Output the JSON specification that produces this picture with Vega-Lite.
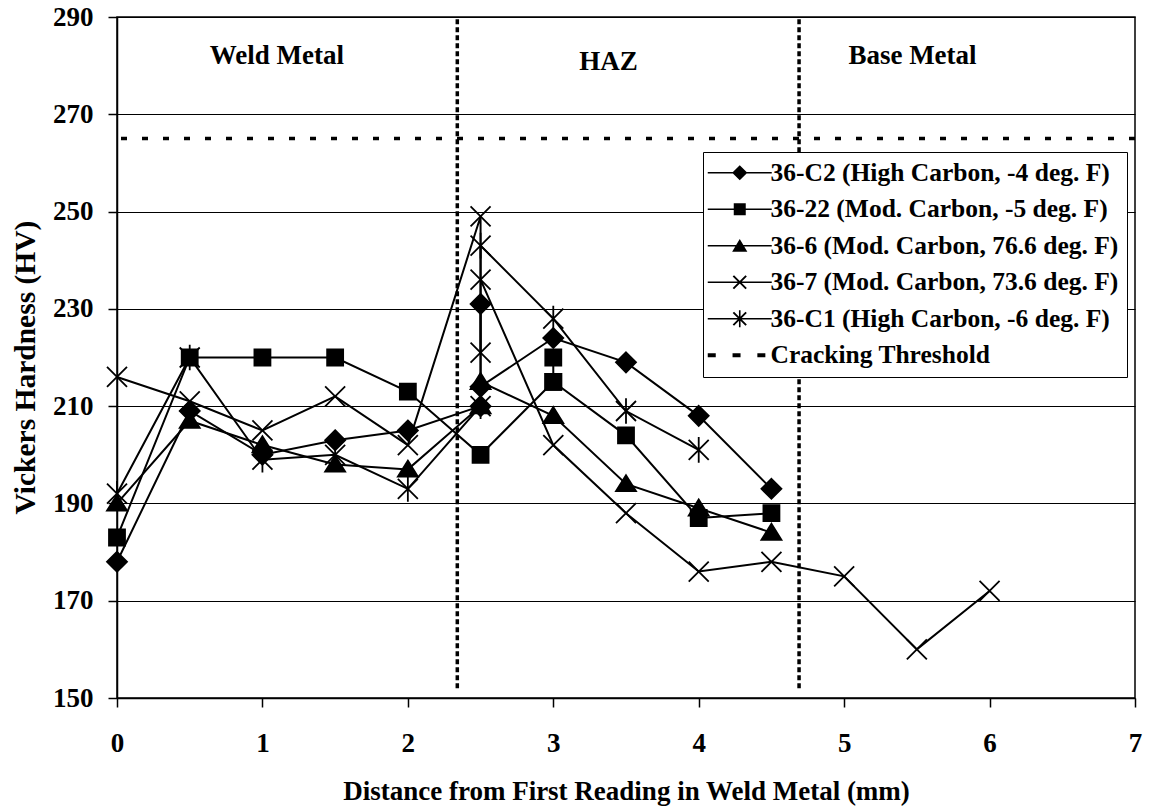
{
  "$schema": "https://vega.github.io/schema/vega-lite/v6.json",
  "width": 1018,
  "height": 681,
  "autosize": {"type": "none"},
  "padding": {"left": 117, "top": 17, "right": 16, "bottom": 112},
  "background": "white",
  "config": {
    "view": {"stroke": "black", "strokeWidth": 1.5},
    "font": "Liberation Serif",
    "axis": {
      "domainColor": "black", "domainWidth": 1.5,
      "tickColor": "black", "tickWidth": 1.5,
      "labelFont": "Liberation Serif", "labelFontWeight": "bold", "labelFontSize": 27, "labelColor": "black",
      "titleFont": "Liberation Serif", "titleFontWeight": "bold", "titleFontSize": 27, "titleColor": "black"
    }
  },
  "datasets": {
    "series": [
      {"s": "C2", "i": 1, "x": 0, "y": 178}, {"s": "C2", "i": 2, "x": 0.5, "y": 209}, {"s": "C2", "i": 3, "x": 1, "y": 200}, {"s": "C2", "i": 4, "x": 1.5, "y": 203}, {"s": "C2", "i": 5, "x": 2, "y": 205}, {"s": "C2", "i": 6, "x": 2.5, "y": 210}, {"s": "C2", "i": 7, "x": 2.5, "y": 231}, {"s": "C2", "i": 8, "x": 2.5, "y": 214}, {"s": "C2", "i": 9, "x": 3, "y": 224}, {"s": "C2", "i": 10, "x": 3.5, "y": 219}, {"s": "C2", "i": 11, "x": 4, "y": 208}, {"s": "C2", "i": 12, "x": 4.5, "y": 193},
      {"s": "22", "i": 1, "x": 0, "y": 183}, {"s": "22", "i": 2, "x": 0.5, "y": 220}, {"s": "22", "i": 3, "x": 1, "y": 220}, {"s": "22", "i": 4, "x": 1.5, "y": 220}, {"s": "22", "i": 5, "x": 2, "y": 213}, {"s": "22", "i": 6, "x": 2.5, "y": 200}, {"s": "22", "i": 7, "x": 3, "y": 215}, {"s": "22", "i": 8, "x": 3, "y": 220}, {"s": "22", "i": 9, "x": 3, "y": 215}, {"s": "22", "i": 10, "x": 3.5, "y": 204}, {"s": "22", "i": 11, "x": 4, "y": 187}, {"s": "22", "i": 12, "x": 4.5, "y": 188},
      {"s": "6", "i": 1, "x": 0, "y": 190}, {"s": "6", "i": 2, "x": 0.5, "y": 207}, {"s": "6", "i": 3, "x": 1, "y": 202}, {"s": "6", "i": 4, "x": 1.5, "y": 198}, {"s": "6", "i": 5, "x": 2, "y": 197}, {"s": "6", "i": 6, "x": 2.5, "y": 210}, {"s": "6", "i": 7, "x": 2.5, "y": 215}, {"s": "6", "i": 8, "x": 3, "y": 208}, {"s": "6", "i": 9, "x": 3.5, "y": 194}, {"s": "6", "i": 10, "x": 4, "y": 189}, {"s": "6", "i": 11, "x": 4.5, "y": 184},
      {"s": "7", "i": 1, "x": 0, "y": 216}, {"s": "7", "i": 2, "x": 0.5, "y": 211}, {"s": "7", "i": 3, "x": 1, "y": 205}, {"s": "7", "i": 4, "x": 1.5, "y": 212}, {"s": "7", "i": 5, "x": 2, "y": 202}, {"s": "7", "i": 6, "x": 2.5, "y": 249}, {"s": "7", "i": 7, "x": 2.5, "y": 221}, {"s": "7", "i": 8, "x": 2.5, "y": 236}, {"s": "7", "i": 9, "x": 3, "y": 202}, {"s": "7", "i": 10, "x": 3.5, "y": 188}, {"s": "7", "i": 11, "x": 4, "y": 176}, {"s": "7", "i": 12, "x": 4.5, "y": 178}, {"s": "7", "i": 13, "x": 5, "y": 175}, {"s": "7", "i": 14, "x": 5.5, "y": 160}, {"s": "7", "i": 15, "x": 6, "y": 172},
      {"s": "C1", "i": 1, "x": 0, "y": 192}, {"s": "C1", "i": 2, "x": 0.5, "y": 220}, {"s": "C1", "i": 3, "x": 1, "y": 199}, {"s": "C1", "i": 4, "x": 1.5, "y": 200}, {"s": "C1", "i": 5, "x": 2, "y": 193}, {"s": "C1", "i": 6, "x": 2.5, "y": 210}, {"s": "C1", "i": 7, "x": 2.5, "y": 243}, {"s": "C1", "i": 8, "x": 3, "y": 228}, {"s": "C1", "i": 9, "x": 3.5, "y": 209}, {"s": "C1", "i": 10, "x": 4, "y": 201}
    ],
    "regions": [
      {"label": "Weld Metal", "x": 1.1, "y": 282},
      {"label": "HAZ", "x": 3.38, "y": 280.7},
      {"label": "Base Metal", "x": 5.47, "y": 282}
    ],
    "bounds": [{"x": 2.34}, {"x": 4.69}],
    "threshold": [{"y": 265}],
    "legendItems": [
      {"name": "36-C2 (High Carbon, -4 deg. F)", "x": -1, "y": 100},
      {"name": "36-22 (Mod. Carbon, -5 deg. F)", "x": -1, "y": 100},
      {"name": "36-6 (Mod. Carbon, 76.6 deg. F)", "x": -1, "y": 100},
      {"name": "36-7 (Mod. Carbon, 73.6 deg. F)", "x": -1, "y": 100},
      {"name": "36-C1 (High Carbon, -6 deg. F)", "x": -1, "y": 100},
      {"name": "Cracking Threshold", "x": -1, "y": 100}
    ]
  },
  "resolve": {"scale": {"shape": "independent"}},
  "layer": [
    {
      "data": {"name": "threshold"},
      "mark": {"type": "rule", "color": "black", "strokeWidth": 3.5, "strokeDash": [6, 15]},
      "encoding": {
        "y": {
          "field": "y", "type": "quantitative",
          "scale": {"domain": [150, 290], "nice": false, "zero": false},
          "axis": {
            "values": [150, 170, 190, 210, 230, 250, 270, 290], "format": "d",
            "grid": true, "gridColor": "black", "gridWidth": 1.2,
            "tickSize": 9, "labelPadding": 15,
            "title": "Vickers Hardness (HV)", "titlePadding": 12, "titleY": 350, "titleFontSize": 29.5
          }
        }
      }
    },
    {
      "data": {"name": "bounds"},
      "mark": {"type": "rule", "color": "black", "strokeWidth": 3.5, "strokeDash": [5, 3]},
      "encoding": {
        "x": {
          "field": "x", "type": "quantitative",
          "scale": {"domain": [0, 7], "nice": false, "zero": false},
          "axis": {
            "values": [0, 1, 2, 3, 4, 5, 6, 7], "format": "d", "grid": false, "labelFlush": false,
            "tickSize": 9, "labelPadding": 23,
            "title": "Distance from First Reading in Weld Metal (mm)", "titlePadding": 22
          }
        },
        "y": {"datum": 152, "type": "quantitative"},
        "y2": {"datum": 290}
      }
    },
    {
      "data": {"name": "regions"},
      "mark": {"type": "text", "font": "Liberation Serif", "fontWeight": "bold", "fontSize": 27, "color": "black"},
      "encoding": {
        "x": {"field": "x", "type": "quantitative"},
        "y": {"field": "y", "type": "quantitative"},
        "text": {"field": "label"}
      }
    },
    {
      "data": {"name": "series"},
      "mark": {"type": "line", "color": "black", "strokeWidth": 2},
      "encoding": {
        "x": {"field": "x", "type": "quantitative"},
        "y": {"field": "y", "type": "quantitative"},
        "detail": {"field": "s"},
        "order": {"field": "i", "type": "quantitative"}
      }
    },
    {
      "data": {"name": "series"},
      "mark": {"type": "point", "filled": true, "color": "black", "stroke": "black", "strokeWidth": 1.8, "size": 256, "opacity": 1},
      "encoding": {
        "x": {"field": "x", "type": "quantitative"},
        "y": {"field": "y", "type": "quantitative"},
        "shape": {
          "field": "s", "type": "nominal",
          "scale": {
            "domain": ["C2", "22", "6", "7", "C1"],
            "range": [
              "M0,-1.25L1.25,0L0,1.25L-1.25,0Z",
              "M-1,-1H1V1H-1Z",
              "M0,-1.1L1.25,0.9H-1.25Z",
              "M-1.25,-1.25L1.25,1.25M-1.25,1.25L1.25,-1.25",
              "M-1.25,-1.25L1.25,1.25M-1.25,1.25L1.25,-1.25M0,-1.6V1.6"
            ]
          },
          "legend": null
        }
      }
    },
    {
      "data": {"name": "legendItems"},
      "mark": {"type": "point", "filled": true, "color": "black", "size": 256, "clip": true},
      "encoding": {
        "x": {"field": "x", "type": "quantitative"},
        "y": {"field": "y", "type": "quantitative"},
        "shape": {
          "field": "name", "type": "nominal",
          "scale": {
            "domain": ["36-C2 (High Carbon, -4 deg. F)", "36-22 (Mod. Carbon, -5 deg. F)", "36-6 (Mod. Carbon, 76.6 deg. F)", "36-7 (Mod. Carbon, 73.6 deg. F)", "36-C1 (High Carbon, -6 deg. F)", "Cracking Threshold"],
            "range": [
              "M-2,-0.1H6V0.1H-2ZM2,-0.95L2.95,0L2,0.95L1.05,0Z",
              "M-2,-0.1H6V0.1H-2ZM1.25,-0.75H2.75V0.75H1.25Z",
              "M-2,-0.1H6V0.1H-2ZM2,-0.85L2.95,0.75H1.05Z",
              "M-2,-0.1H6V0.1H-2ZM1.285,-0.885L2.885,0.715L2.715,0.885L1.115,-0.715ZM1.285,0.885L1.115,0.715L2.715,-0.885L2.885,-0.715Z",
              "M-2,-0.1H6V0.1H-2ZM1.285,-0.885L2.885,0.715L2.715,0.885L1.115,-0.715ZM1.285,0.885L1.115,0.715L2.715,-0.885L2.885,-0.715ZM1.9,-1.05H2.1V1.05H1.9Z",
              "M-2,-0.25H-1V0.25H-2ZM1.1,-0.25H2.1V0.25H1.1ZM4.2,-0.25H5.2V0.25H4.2Z"
            ]
          },
          "legend": {
            "title": null, "orient": "none", "legendX": 586, "legendY": 135,
            "fillColor": "white", "strokeColor": "black", "padding": 8,
            "labelFont": "Liberation Serif", "labelFontWeight": "bold", "labelFontSize": 25.5, "labelColor": "black", "labelLimit": 600,
            "symbolSize": 256, "symbolOffset": 0, "labelOffset": 34, "rowPadding": 9.5,
            "symbolFillColor": "black", "symbolStrokeColor": "black", "symbolStrokeWidth": 0, "symbolOpacity": 1,
            "zindex": 1
          }
        }
      }
    }
  ]
}
